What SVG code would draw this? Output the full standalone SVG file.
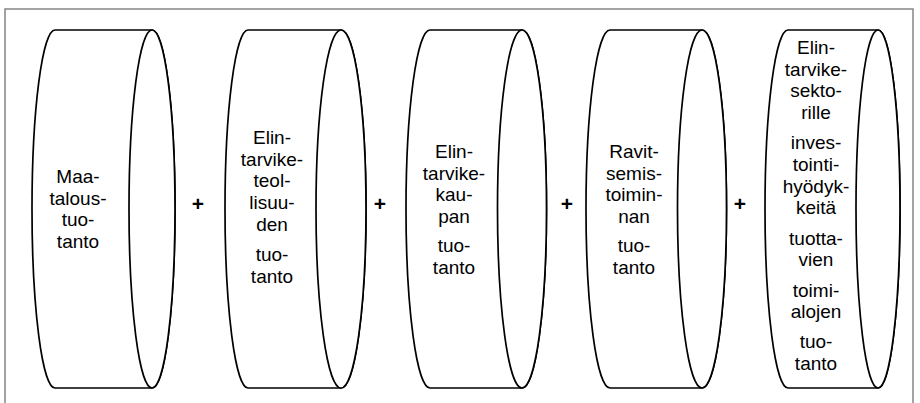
<svg xmlns="http://www.w3.org/2000/svg" width="920" height="403" viewBox="0 0 920 403">
<style>
.frame{fill:none;stroke:#858585;stroke-width:1.5}
.cyl{fill:#fff;stroke:#000;stroke-width:1.7}
.t{font-family:"Liberation Sans",Arial,sans-serif;font-size:19px;fill:#000;text-anchor:middle}
.plus{font-family:"Liberation Sans",Arial,sans-serif;font-size:21px;font-weight:bold;fill:#000;text-anchor:middle}
</style>
<rect class="frame" x="5" y="9" width="908" height="410"/>
<g id="n1">
<path class="cyl" d="M55,30 L152,30 A23,179 0 0 1 152,388 L55,388 A23,179 0 0 1 55,30 Z"/>
<ellipse class="cyl" cx="152" cy="209" rx="23" ry="179"/>
<text class="t"><tspan x="78" y="183">Maa-</tspan><tspan x="78" y="204.7">talous-</tspan><tspan x="78" y="226.4">tuo-</tspan><tspan x="78" y="248.1">tanto</tspan></text>
</g>
<g id="n2">
<path class="cyl" d="M248,30 L341,30 A25,179 0 0 1 341,388 L248,388 A23,179 0 0 1 248,30 Z"/>
<ellipse class="cyl" cx="341" cy="209" rx="25" ry="179"/>
<text class="t"><tspan x="272" y="144">Elin-</tspan><tspan x="272" y="165.7">tarvike-</tspan><tspan x="272" y="187.4">teol-</tspan><tspan x="272" y="209.1">lisuu-</tspan><tspan x="272" y="230.8">den</tspan><tspan x="272" y="261">tuo-</tspan><tspan x="272" y="282.7">tanto</tspan></text>
</g>
<g id="n3">
<path class="cyl" d="M430,30 L522,30 A24.5,179 0 0 1 522,388 L430,388 A24,179 0 0 1 430,30 Z"/>
<ellipse class="cyl" cx="522" cy="209" rx="24.5" ry="179"/>
<text class="t"><tspan x="454" y="158">Elin-</tspan><tspan x="454" y="179.7">tarvike-</tspan><tspan x="454" y="201.4">kau-</tspan><tspan x="454" y="223.1">pan</tspan><tspan x="454" y="252.3">tuo-</tspan><tspan x="454" y="274">tanto</tspan></text>
</g>
<g id="n4">
<path class="cyl" d="M610,30 L702,30 A24.5,179 0 0 1 702,388 L610,388 A24,179 0 0 1 610,30 Z"/>
<ellipse class="cyl" cx="702" cy="209" rx="24.5" ry="179"/>
<text class="t"><tspan x="634" y="158">Ravit-</tspan><tspan x="634" y="179.7">semis-</tspan><tspan x="634" y="201.4">toimin-</tspan><tspan x="634" y="223.1">nan</tspan><tspan x="634" y="252.3">tuo-</tspan><tspan x="634" y="274">tanto</tspan></text>
</g>
<g id="n5">
<path class="cyl" d="M788,30 L878,30 A22,179 0 0 1 878,388 L788,388 A23,179 0 0 1 788,30 Z"/>
<ellipse class="cyl" cx="878" cy="209" rx="22" ry="179"/>
<text class="t"><tspan x="816" y="54">Elin-</tspan><tspan x="816" y="75.7">tarvike-</tspan><tspan x="816" y="97.4">sekto-</tspan><tspan x="816" y="119.1">rille</tspan><tspan x="816" y="149.3">inves-</tspan><tspan x="816" y="171">tointi-</tspan><tspan x="816" y="192.7">hyödyk-</tspan><tspan x="816" y="214.4">keitä</tspan><tspan x="816" y="244.6">tuotta-</tspan><tspan x="816" y="266.3">vien</tspan><tspan x="816" y="296.5">toimi-</tspan><tspan x="816" y="318.2">alojen</tspan><tspan x="816" y="348.4">tuo-</tspan><tspan x="816" y="370.1">tanto</tspan></text>
</g>
<g id="connectors">
<text class="plus" x="198" y="211">+</text>
<text class="plus" x="380" y="211">+</text>
<text class="plus" x="567" y="211">+</text>
<text class="plus" x="740" y="211">+</text>
</g>
</svg>
